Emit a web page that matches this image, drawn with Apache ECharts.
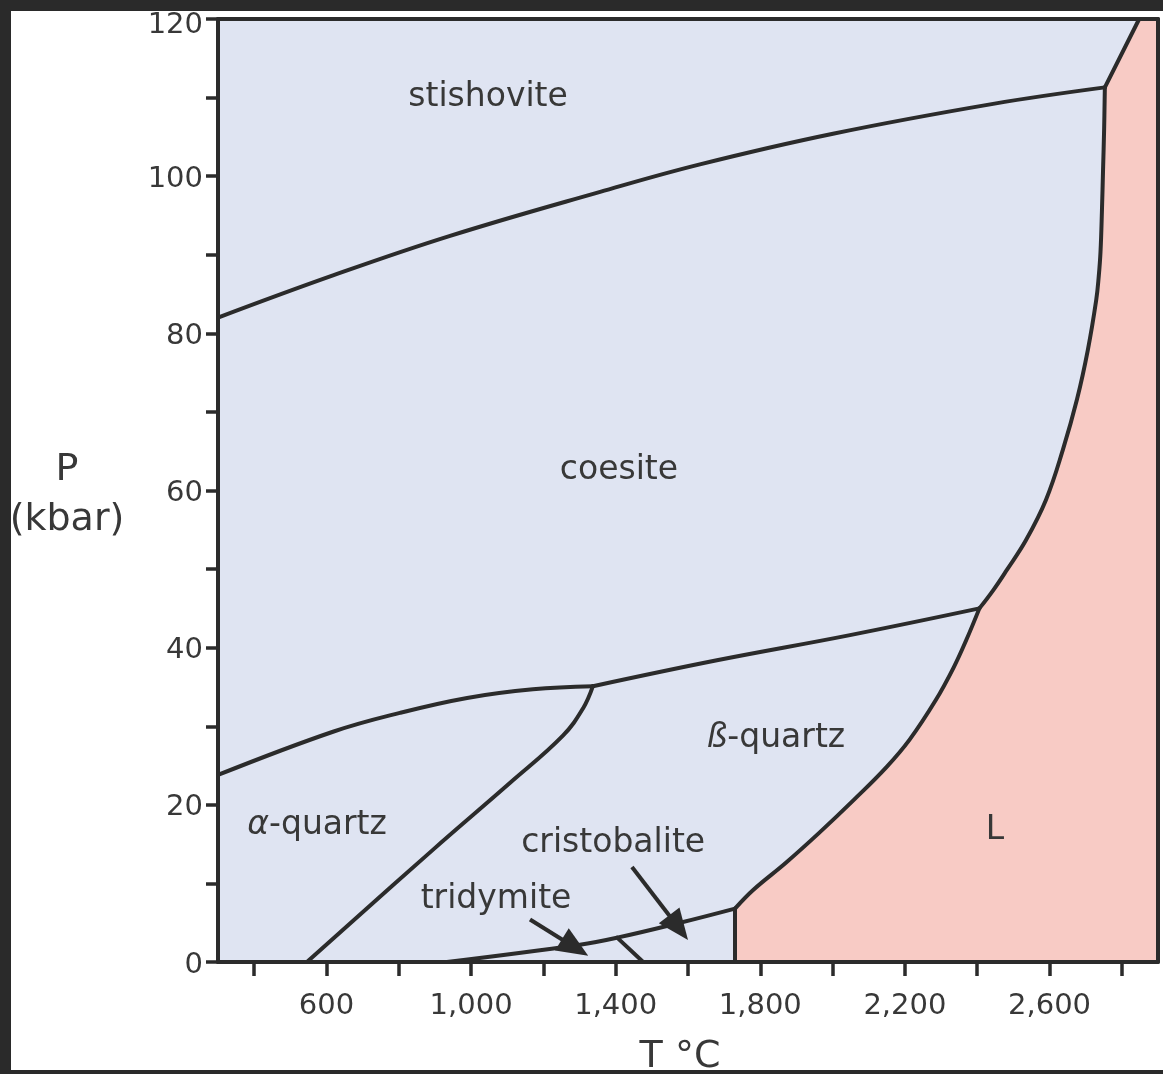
<!DOCTYPE html>
<html>
<head>
    <meta charset="utf-8">
    <title>SiO2 phase diagram</title>
    <script src="https://cdn.jsdelivr.net/npm/echarts@6/dist/echarts.min.js"></script>
    <style>
        html, body { margin: 0; padding: 0; background: #2a2a2a; }
        #main { position: absolute; left: 11px; top: 11px; width: 1152px; height: 1059px; background: #fff; }
    </style>
</head>
<body>
    <div id="main"></div>
    <script type="text/javascript">
        // axis ticks and labels
        var xTicks = [400, 600, 800, 1000, 1200, 1400, 1600, 1800, 2000, 2200, 2400, 2600, 2800];
        var xLabels = [600, 1000, 1400, 1800, 2200, 2600];
        var yTicks = [0, 10, 20, 30, 40, 50, 60, 70, 80, 90, 100, 110, 120];
        var yLabels = [0, 20, 40, 60, 80, 100, 120];

        // phase boundaries, [T °C, P kbar]
        var stishoviteCoesite = [[300, 82.0], [620, 87.4], [942, 92.4], [1357, 98.0], [1633, 101.5], [2001, 105.4], [2444, 109.2], [2753, 111.3]];
        var stishoviteLiquid = [[2753, 111.3], [2848, 120]];
        var coesiteLiquid = [[2753, 111.3], [2751, 106.0], [2748, 100.8], [2745, 95.7], [2741, 90.4], [2736, 87.2], [2729, 84.2], [2706, 77.9], [2676, 71.6], [2637, 65.2], [2590, 58.8], [2535, 53.7], [2482, 49.9], [2444, 47.3], [2406, 45.0]];
        var coesiteBeta = [[1337, 35.1], [1680, 38.4], [2048, 41.6], [2406, 45.0]];
        var coesiteAlpha = [[300, 23.8], [618, 29.3], [803, 31.7], [989, 33.6], [1171, 34.7], [1337, 35.1]];
        var alphaBeta = [[546, 0], [895, 14.3], [1108, 22.8], [1254, 28.8], [1310, 32.3], [1337, 35.1]];
        var betaLiquid = [[1730, 6.8], [1781, 9.2], [1870, 12.6], [1962, 16.4], [2058, 20.6], [2149, 24.8], [2213, 28.3], [2285, 33.3], [2335, 37.5], [2370, 41.0], [2406, 45.0]];
        var lowPressure = [[933, 0], [1301, 2.2], [1404, 3.1], [1578, 5.0], [1730, 6.8]];
        var tridymiteCristobalite = [[1404, 3.1], [1476, 0]];
        var cristobaliteLiquid = [[1730, 0], [1730, 6.8]];

        // pink liquid field, built from the boundaries above
        var liquidField = [[1730, 0]]
            .concat(betaLiquid)
            .concat(coesiteLiquid.slice().reverse())
            .concat(stishoviteLiquid.slice(1))
            .concat([[2900, 120], [2900, 0]]);

        var regionLabels = [
            { name: 'stishovite', value: [1047, 110.0] },
            { name: 'coesite', value: [1409, 62.6] },
            { name: '{it|ß}-quartz', value: [1843, 28.5] },
            { name: '{it|α}-quartz', value: [574, 17.4] },
            { name: 'cristobalite', value: [1393, 15.1] },
            { name: 'tridymite', value: [1069, 8.0] },
            { name: 'L', value: [2449, 16.8] }
        ];

        // arrows: tail T, tail P, tip T, tip P
        var arrows = [
            [1163, 5.4, 1324, 0.8],
            [1445, 12.1, 1600, 2.8]
        ];

        var ink = '#2b2b2b';
        var textColor = '#383838';
        var font = 'DejaVu Sans';
        var xMin = 300, xMax = 2900;

        function boundary(data) {
            return {
                type: 'line',
                data: data,
                symbol: 'none',
                smooth: 0.4,
                silent: true,
                z: 4,
                lineStyle: { color: ink, width: 4, cap: 'round', join: 'round' }
            };
        }

        var myChart = echarts.init(document.getElementById('main'));
        var option = {
            animation: false,
            grid: {
                left: 207,
                right: 5,
                top: 8,
                bottom: 108,
                show: true,
                backgroundColor: '#dfe4f2',
                borderWidth: 0,
                containLabel: false,
                outerBoundsMode: 'none'
            },
            xAxis: [{
                type: 'value',
                min: xMin,
                max: xMax,
                position: 'bottom',
                z: 10,
                axisLine: { show: true, onZero: false, lineStyle: { color: ink, width: 4 } },
                axisTick: { show: true, inside: false, length: 14, customValues: xTicks, lineStyle: { color: ink, width: 3.5 } },
                axisLabel: {
                    show: true,
                    customValues: xLabels,
                    margin: 30,
                    fontFamily: font,
                    fontSize: 29,
                    color: textColor,
                    formatter: function (v) {
                        return String(v).replace(/\B(?=(\d{3})+(?!\d))/g, ',');
                    }
                },
                splitLine: { show: false },
                name: 'T °C',
                nameLocation: 'middle',
                nameGap: 76,
                nameTextStyle: { fontFamily: font, fontSize: 38, color: textColor, padding: [0, 16, 0, 0] }
            }, {
                type: 'value',
                min: xMin,
                max: xMax,
                position: 'top',
                z: 10,
                axisLine: { show: true, onZero: false, lineStyle: { color: ink, width: 4 } },
                axisTick: { show: false },
                axisLabel: { show: false },
                splitLine: { show: false }
            }],
            yAxis: [{
                type: 'value',
                min: 0,
                max: 120,
                position: 'left',
                z: 10,
                axisLine: { show: true, onZero: false, lineStyle: { color: ink, width: 4 } },
                axisTick: { show: true, inside: false, length: 12, customValues: yTicks, lineStyle: { color: ink, width: 3.5 } },
                // values are drawn by the label series below so they can sit a bit low, as in the source
                axisLabel: { show: false },
                splitLine: { show: false },
                name: '{p|P}\n{k|(kbar)}',
                nameLocation: 'middle',
                nameRotate: 0,
                nameGap: 151,
                nameTextStyle: {
                    fontFamily: font,
                    fontSize: 38,
                    color: textColor,
                    align: 'center',
                    rich: {
                        p: { fontFamily: font, fontSize: 38, color: textColor, lineHeight: 60, align: 'center' },
                        k: { fontFamily: font, fontSize: 38, color: textColor, lineHeight: 40, align: 'center' }
                    }
                }
            }, {
                type: 'value',
                min: 0,
                max: 120,
                position: 'right',
                z: 10,
                axisLine: { show: true, onZero: false, lineStyle: { color: ink, width: 4 } },
                axisTick: { show: false },
                axisLabel: { show: false },
                splitLine: { show: false }
            }],
            series: [
                {
                    type: 'custom',
                    data: liquidField,
                    silent: true,
                    z: 1,
                    renderItem: function (params, api) {
                        if (params.dataIndex !== 0) return;
                        var pts = liquidField.map(function (p) { return api.coord(p); });
                        return { type: 'polygon', shape: { points: pts }, style: { fill: '#f8cbc5' } };
                    }
                },
                boundary(stishoviteCoesite),
                boundary(stishoviteLiquid),
                boundary(coesiteLiquid),
                boundary(coesiteBeta),
                boundary(coesiteAlpha),
                boundary(alphaBeta),
                boundary(betaLiquid),
                boundary(lowPressure),
                boundary(tridymiteCristobalite),
                boundary(cristobaliteLiquid),
                {
                    type: 'custom',
                    data: arrows,
                    silent: true,
                    z: 5,
                    encode: { x: [0, 2], y: [1, 3] },
                    renderItem: function (params, api) {
                        var tail = api.coord([api.value(0), api.value(1)]);
                        var tip = api.coord([api.value(2), api.value(3)]);
                        var dx = tip[0] - tail[0], dy = tip[1] - tail[1];
                        var len = Math.sqrt(dx * dx + dy * dy);
                        var ux = dx / len, uy = dy / len;
                        var headLen = 31, headW = 13;
                        var base = [tip[0] - ux * headLen, tip[1] - uy * headLen];
                        return {
                            type: 'group',
                            children: [{
                                type: 'line',
                                shape: { x1: tail[0], y1: tail[1], x2: base[0] + ux * 4, y2: base[1] + uy * 4 },
                                style: { stroke: ink, lineWidth: 4 }
                            }, {
                                type: 'polygon',
                                shape: { points: [tip, [base[0] - uy * headW, base[1] + ux * headW], [base[0] + uy * headW, base[1] - ux * headW]] },
                                style: { fill: ink }
                            }]
                        };
                    }
                },
                {
                    // y axis values
                    type: 'scatter',
                    data: yLabels.map(function (v) {
                        return { value: [xMin, v], label: { offset: [0, v === 120 ? 6 : 3] } };
                    }),
                    symbolSize: 0,
                    silent: true,
                    clip: false,
                    z: 6,
                    itemStyle: { opacity: 1 },
                    label: {
                        show: true,
                        position: 'left',
                        distance: 15,
                        fontFamily: font,
                        fontSize: 29,
                        color: textColor,
                        textBorderWidth: 0,
                        formatter: function (p) { return String(p.value[1]); }
                    }
                },
                {
                    type: 'scatter',
                    data: regionLabels,
                    symbolSize: 0,
                    silent: true,
                    z: 6,
                    itemStyle: { opacity: 1 },
                    label: {
                        show: true,
                        position: 'inside',
                        fontFamily: font,
                        fontSize: 33,
                        color: textColor,
                        opacity: 1,
                        textBorderWidth: 0,
                        textBorderColor: 'transparent',
                        formatter: function (p) { return p.name; },
                        rich: {
                            it: { fontFamily: font, fontSize: 33, fontStyle: 'italic', color: textColor, textBorderWidth: 0 }
                        }
                    }
                }
            ]
        };
        myChart.setOption(option);
    </script>
</body>
</html>
